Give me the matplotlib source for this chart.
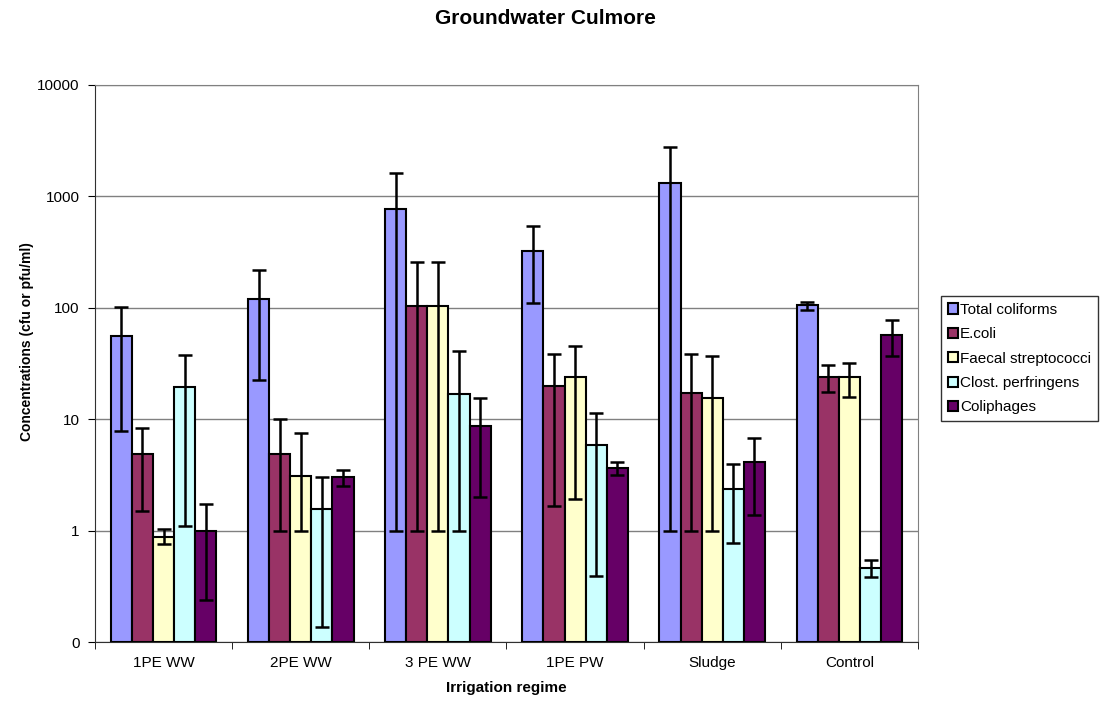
import numpy as np
import matplotlib
matplotlib.use('Agg')
import matplotlib.pyplot as plt

plt.rcParams['font.family'] = ['Liberation Sans', 'DejaVu Sans']

# Data (log scale, bottom "0" drawn at 0.1)
groups = ['1PE WW', '2PE WW', '3 PE WW', '1PE PW', 'Sludge', 'Control']
series = ['Total coliforms', 'E.coli', 'Faecal streptococci', 'Clost. perfringens', 'Coliphages']
colors = ['#9999FF', '#993366', '#FFFFCC', '#CCFFFF', '#660066']

total_coliforms = [55.5, 121, 776, 326, 1309, 105]
total_coliforms_hi = [102, 220, 1634, 541, 2754, 113]
total_coliforms_lo = [7.9, 22.4, 1.0, 110, 1.0, 96]

e_coli = [4.9, 4.83, 104, 19.9, 17.1, 23.7]
e_coli_hi = [8.4, 10, 259, 38.5, 38.5, 30.8]
e_coli_lo = [1.5, 1.0, 1.0, 1.68, 1.0, 17.5]

faecal_strep = [0.88, 3.1, 104, 23.7, 15.5, 23.7]
faecal_strep_hi = [1.03, 7.5, 259, 45.5, 37, 32]
faecal_strep_lo = [0.76, 1.0, 1.0, 1.93, 1.0, 15.7]

clost_perf = [19.5, 1.57, 16.7, 5.85, 2.36, 0.46]
clost_perf_hi = [37.8, 3.03, 41, 11.4, 3.96, 0.55]
clost_perf_lo = [1.1, 0.136, 1.0, 0.39, 0.77, 0.38]

coliphages = [0.99, 3.03, 8.65, 3.61, 4.12, 57.5]
coliphages_hi = [1.72, 3.53, 15.5, 4.15, 6.78, 77.5]
coliphages_lo = [0.24, 2.51, 2.0, 3.13, 1.38, 36.6]

values = [total_coliforms, e_coli, faecal_strep, clost_perf, coliphages]
highs = [total_coliforms_hi, e_coli_hi, faecal_strep_hi, clost_perf_hi, coliphages_hi]
lows = [total_coliforms_lo, e_coli_lo, faecal_strep_lo, clost_perf_lo, coliphages_lo]

fig = plt.figure(figsize=(11.05, 7.02), dpi=100)
ax = fig.add_axes([95 / 1105, 60 / 702, 823 / 1105, 557 / 702])

x = np.arange(len(groups))
width = 0.154
bottom = 0.1
for i, (name, vals, hi, lo, c) in enumerate(zip(series, values, highs, lows, colors)):
    vals = np.array(vals)
    pos = x + (i - 2) * width
    ax.bar(pos, vals - bottom, width, bottom=bottom, color=c, edgecolor='black',
           linewidth=1.5, label=name, zorder=3)
    yerr = [vals - np.array(lo), np.array(hi) - vals]
    ax.errorbar(pos, vals, yerr=yerr, fmt='none', ecolor='black', elinewidth=1.8,
                capsize=4.7, capthick=1.8, zorder=4)

ax.set_yscale('log')
ax.set_ylim(0.1, 10000)
ax.set_xlim(-0.5, len(groups) - 0.5)
ax.set_yticks([0.1, 1, 10, 100, 1000, 10000])
ax.set_yticklabels(['0', '1', '10', '100', '1000', '10000'])
ax.yaxis.set_minor_locator(matplotlib.ticker.NullLocator())
ax.set_xticks(x)
ax.set_xticklabels(groups)
ax.set_xticks(np.arange(len(groups) + 1) - 0.5, minor=True)
ax.tick_params(axis='x', which='major', length=0, pad=10, labelsize=11)
ax.tick_params(axis='x', which='minor', length=5, direction='out')
ax.tick_params(axis='y', length=5, direction='out', labelsize=11, pad=6)
ax.grid(axis='y', which='major', color='#808080', linewidth=1, zorder=0)

for s in ['top', 'right']:
    ax.spines[s].set_color('#808080')
for s in ['left', 'bottom']:
    ax.spines[s].set_color('#303030')

ax.set_xlabel('Irrigation regime', fontsize=11, fontweight='bold', labelpad=8)
fig.text(27 / 1105, 1 - 342 / 702, 'Concentrations (cfu or pfu/ml)', rotation=90,
         ha='center', va='center', fontsize=10, fontweight='bold')
fig.text(545 / 1105, 1 - 18 / 702, 'Groundwater Culmore', ha='center', va='center',
         fontsize=15, fontweight='bold')

leg = fig.legend(loc='upper left', bbox_to_anchor=(941 / 1105, 1 - 296 / 702),
                 frameon=True, fancybox=False, fontsize=11, handlelength=0.65,
                 handleheight=0.65, handletextpad=0.15, labelspacing=0.68,
                 borderaxespad=0, borderpad=0.45)
leg.get_frame().set_edgecolor('black')
leg.get_frame().set_linewidth(1)

fig.savefig('out.png', dpi=100)
